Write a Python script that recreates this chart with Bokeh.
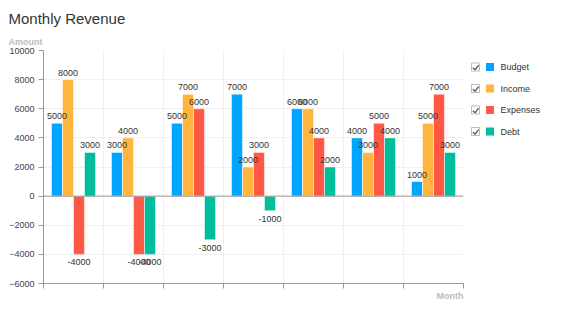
from bokeh.plotting import figure
from bokeh.models import Range1d, FixedTicker, Span, ColumnDataSource, Title
from bokeh.layouts import row
from bokeh.embed import file_html
from bokeh.resources import INLINE
from bokeh.core.properties import value

# ---- data ----
months = ["Jan", "Feb", "Mar", "Apr", "May", "Jun", "Jul"]
series = ["Budget", "Income", "Expenses", "Debt"]
budget = [5000, 3000, 5000, 7000, 6000, 4000, 1000]
income = [8000, 4000, 7000, 2000, 6000, 3000, 5000]
expenses = [-4000, -4000, 6000, 3000, 4000, 5000, 7000]
debt = [3000, -4000, -3000, -1000, 2000, 4000, 3000]
y_ticks = [-6000, -4000, -2000, 0, 2000, 4000, 6000, 8000, 10000]
colors = ["#00A5FF", "#FFB53F", "#FF5945", "#00BE9C"]

FONT = "Liberation Sans"
values = [budget, income, expenses, debt]
n = len(months)

p = figure(width=470, height=333, output_backend="svg", toolbar_location=None,
           x_range=Range1d(0, n), y_range=Range1d(-6000, 10000),
           min_border_left=43, min_border_right=7, min_border_top=50, min_border_bottom=50)
p.outline_line_color = None
p.background_fill_color = "white"

p.xaxis.ticker = FixedTicker(ticks=list(range(n + 1)))
p.xaxis.major_label_overrides = {i: "" for i in range(n + 1)}
p.xaxis.axis_line_color = "#999999"
p.xaxis.major_tick_line_color = "#999999"
p.xaxis.major_tick_out = 5
p.xaxis.major_tick_in = 0
p.xaxis.minor_tick_line_color = None

p.yaxis.ticker = FixedTicker(ticks=y_ticks)
p.yaxis.axis_line_color = "#999999"
p.yaxis.major_tick_line_color = "#999999"
p.yaxis.major_tick_out = 5
p.yaxis.major_tick_in = 0
p.yaxis.minor_tick_line_color = None
p.yaxis.major_label_standoff = 4
p.yaxis.major_label_text_font = FONT
p.yaxis.major_label_text_font_size = "9px"
p.yaxis.major_label_text_color = "#444444"

p.xgrid.ticker = FixedTicker(ticks=list(range(n + 1)))
p.grid.grid_line_color = "#f0f0f0"

bar_w = 0.183
offsets = [-0.275, -0.0917, 0.0917, 0.275]
label_sources = []
for k, (name, vals, col) in enumerate(zip(series, values, colors)):
    xs = [i + 0.5 + offsets[k] for i in range(n)]
    src = ColumnDataSource(dict(x=xs, top=vals))
    p.vbar(x="x", top="top", bottom=0, width=bar_w, source=src, fill_color=col,
           line_color="white", line_alpha=0.5, line_width=1)
    pos = ColumnDataSource(dict(x=[x for x, v in zip(xs, vals) if v >= 0],
                                y=[v for v in vals if v >= 0],
                                t=[str(v) for v in vals if v >= 0]))
    neg = ColumnDataSource(dict(x=[x for x, v in zip(xs, vals) if v < 0],
                                y=[v for v in vals if v < 0],
                                t=[str(v) for v in vals if v < 0]))
    label_sources.append((pos, neg))

p.add_layout(Span(location=0, dimension="width", line_color="#999999", line_width=1))

for pos, neg in label_sources:
    p.text(x="x", y="y", text="t", source=pos, text_align="center", text_baseline="alphabetic",
           y_offset=-7, text_font=value(FONT), text_font_size="9px", text_color="#333333")
    p.text(x="x", y="y", text="t", source=neg, text_align="center", text_baseline="top",
           y_offset=5, text_font=value(FONT), text_font_size="9px", text_color="#333333")

p.add_layout(Title(text="Amount", align="left", offset=-35, standoff=7, text_font=FONT,
                   text_font_size="9px", text_font_style="bold", text_color="#bbbbbb"), "above")
p.add_layout(Title(text="Monthly Revenue", align="left", offset=-35, standoff=9, text_font=FONT,
                   text_font_size="15px", text_font_style="normal", text_color="#333333"), "above")
p.add_layout(Title(text="Month", align="right", offset=0, standoff=0, text_font=FONT,
                   text_font_size="9px", text_font_style="bold", text_color="#bbbbbb"), "below")

# ---- legend panel (data units = canvas pixels) ----
q = figure(width=113, height=333, output_backend="svg", toolbar_location=None,
           x_range=Range1d(0, 113), y_range=Range1d(283, 50),
           x_axis_location=None, y_axis_location=None,
           min_border_left=0, min_border_right=0, min_border_top=50, min_border_bottom=50)
q.grid.visible = False
q.outline_line_color = None
ys = [66.5 + 21.5 * i for i in range(len(series))]
q.rect(x=[5] * 4, y=ys, width=8, height=8, fill_color="white", line_color="#bbbbbb")
q.multi_line(xs=[[2.3, 4.7, 8] for _ in ys], ys=[[y + 0.8, y + 2.8, y - 1.8] for y in ys],
             line_color="#555555", line_width=1.3)
q.rect(x=[19.5] * 4, y=ys, width=8, height=8, fill_color=colors, line_color=None)
q.text(x=[30] * 4, y=ys, text=series, text_baseline="middle", text_align="left",
       text_font=value(FONT), text_font_size="9px", text_color="#333333")

layout = row(p, q)
open("out.html", "w").write(file_html(layout, INLINE))
